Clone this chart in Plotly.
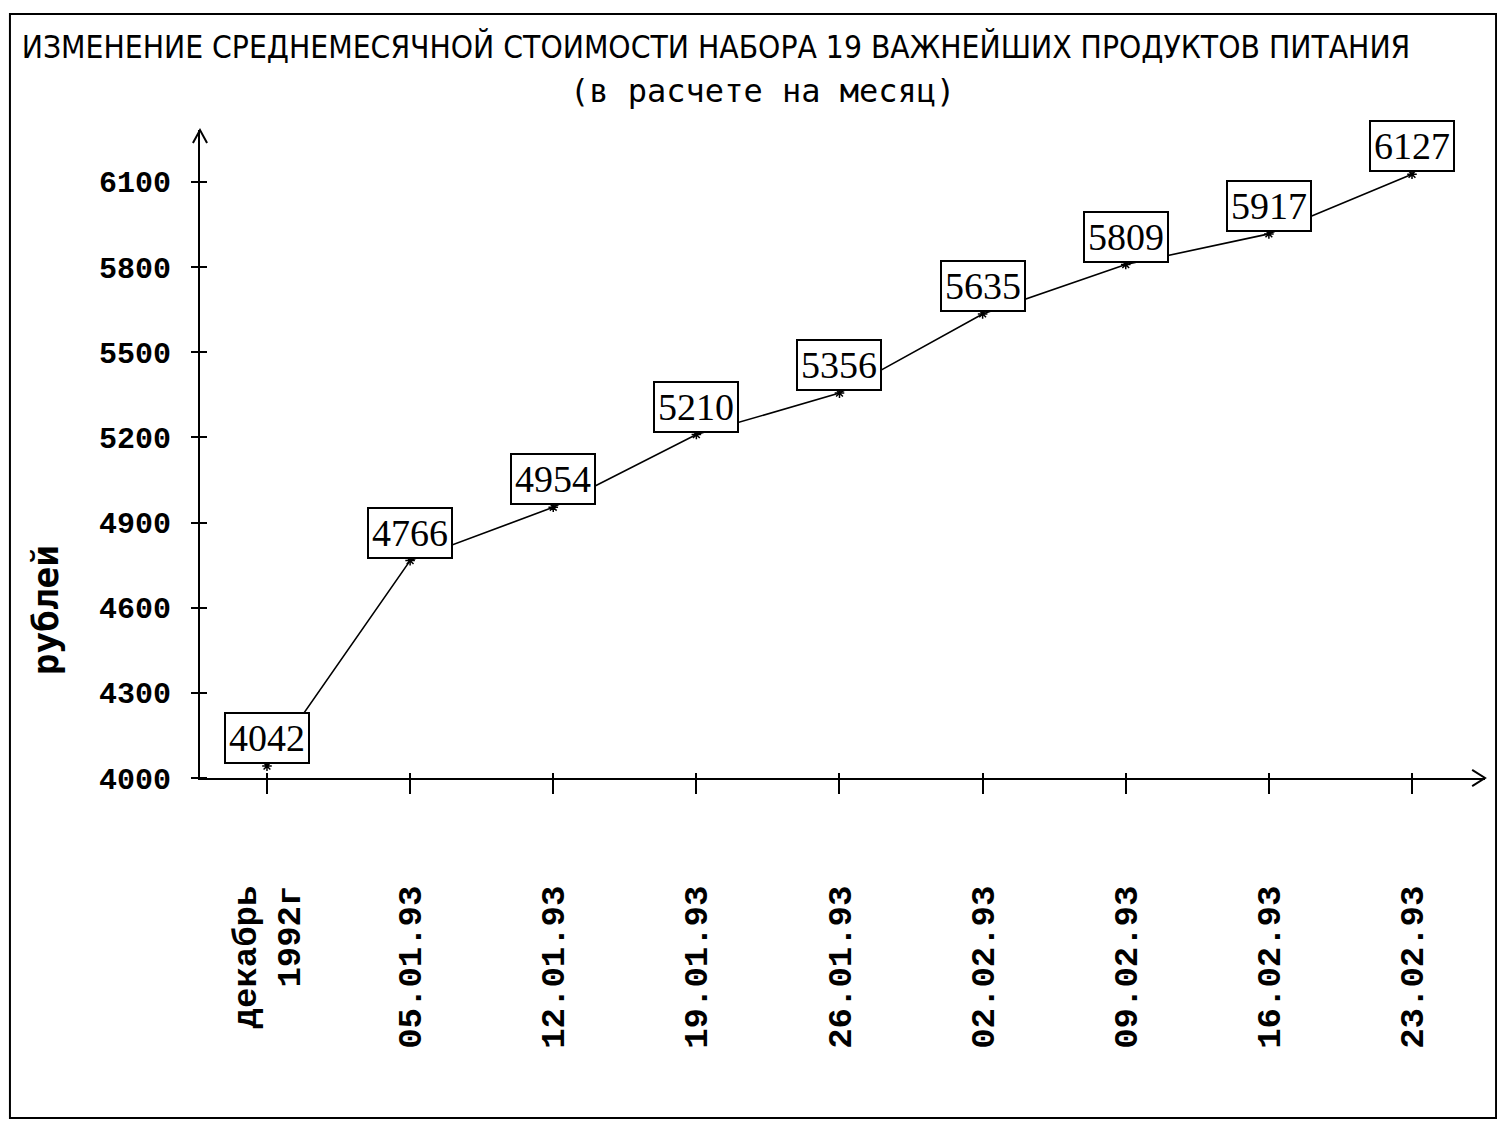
import plotly.graph_objects as go

# ---- data ----
categories = ["декабрь<br>1992г", "05.01.93", "12.01.93", "19.01.93", "26.01.93",
              "02.02.93", "09.02.93", "16.02.93", "23.02.93"]
values = [4042, 4766, 4954, 5210, 5356, 5635, 5809, 5917, 6127]
y_ticks = [4000, 4300, 4600, 4900, 5200, 5500, 5800, 6100]
title_text = "ИЗМЕНЕНИЕ СРЕДНЕМЕСЯЧНОЙ СТОИМОСТИ НАБОРА 19 ВАЖНЕЙШИХ ПРОДУКТОВ ПИТАНИЯ"
subtitle_text = "(в расчете на месяц)"
y_title = "рублей"

xs = list(range(len(categories)))

fig = go.Figure()
fig.add_trace(go.Scatter(
    x=xs, y=values, mode="lines+markers",
    line=dict(color="black", width=1.6),
    marker=dict(symbol="asterisk-open", size=8, color="black", line=dict(width=1.5, color="black")),
    hoverinfo="x+y", showlegend=False, cliponaxis=False,
))

# value boxes above points
for xi, v in zip(xs, values):
    fig.add_annotation(
        x=xi, y=v, xref="x", yref="y", text=str(v), showarrow=False,
        xanchor="center", yanchor="bottom", yshift=2,
        font=dict(family="Liberation Serif", size=38, color="black"),
        bgcolor="white", bordercolor="black", borderwidth=2, borderpad=3,
    )

mono = "Liberation Mono"

fig.update_layout(
    width=1489, height=1112,
    margin=dict(l=192, r=12, t=122, b=342),
    paper_bgcolor="white", plot_bgcolor="white",
    title=dict(text=title_text, x=0.4755, y=0.965, xref="container", yref="container",
               xanchor="center", yanchor="middle",
               font=dict(family="DejaVu Sans Condensed", size=31.5, color="black")),
    xaxis=dict(
        range=[-0.468, 8.51], tickmode="array", tickvals=xs, ticktext=categories,
        tickangle=-90, showgrid=False, zeroline=False,
        showline=True, linecolor="black", linewidth=2,
        ticks="outside", ticklen=14, tickwidth=2, tickcolor="black",
        ticklabelstandoff=78,
        tickfont=dict(family=mono, size=34, color="black", weight="bold"),
        minor=dict(tickmode="array", tickvals=xs, ticks="inside", ticklen=5,
                   tickwidth=2, tickcolor="black"),
        fixedrange=True,
    ),
    yaxis=dict(
        range=[4000, 6283], tickmode="array", tickvals=y_ticks,
        ticktext=[str(t) for t in y_ticks], showgrid=False, zeroline=False,
        showline=True, linecolor="black", linewidth=2,
        ticks="outside", ticklen=7, tickwidth=2, tickcolor="black",
        ticklabelstandoff=14,
        tickfont=dict(family=mono, size=30, color="black", weight="bold"),
        minor=dict(tickmode="array", tickvals=y_ticks, ticks="inside", ticklen=7,
                   tickwidth=2, tickcolor="black"),
        fixedrange=True,
    ),
    annotations=list(fig.layout.annotations) + [
        dict(text=subtitle_text, x=0.438, y=1.060, xref="paper", yref="paper",
             showarrow=False, xanchor="center", yanchor="middle",
             font=dict(family="DejaVu Sans Mono", size=32, color="black")),
        dict(text=y_title, x=-0.1206, y=0.259, xref="paper", yref="paper",
             showarrow=False, textangle=-90, xanchor="center", yanchor="middle",
             font=dict(family="DejaVu Sans Mono", size=36, color="black", weight="bold")),
    ],
    shapes=[
        # outer frame
        dict(type="rect", xref="paper", yref="paper", x0=-0.1479, x1=1.0086,
             y0=-0.5247, y1=1.179, line=dict(color="black", width=2), layer="below"),
        # arrowheads
        dict(type="path", xref="paper", yref="paper",
             path="M -0.0055,0.98 L 0,1.0 L 0.0055,0.98",
             line=dict(color="black", width=2)),
        dict(type="path", xref="paper", yref="paper",
             path="M 0.99,0.0125 L 1.0,0 L 0.99,-0.0125",
             line=dict(color="black", width=2)),
    ],
)

fig.write_html("out.html")
